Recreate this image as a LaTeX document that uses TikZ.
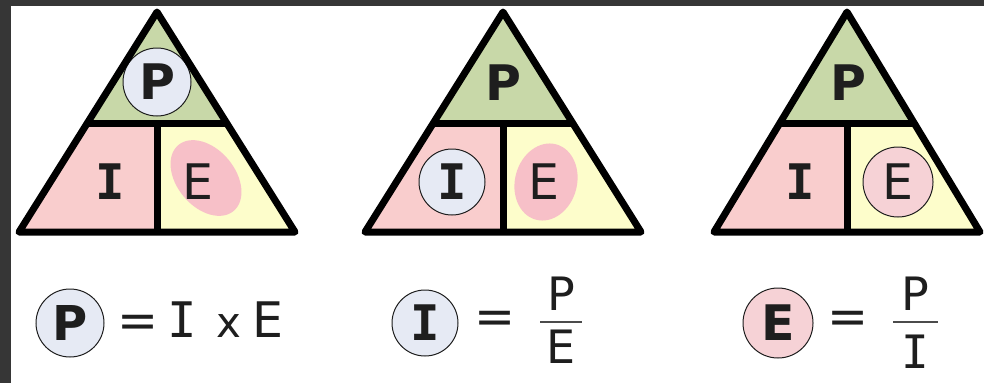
\documentclass[tikz,border=0pt]{standalone}
\usepackage{fontspec}
\setmainfont{DejaVu Sans}
\newfontfamily\slabfont{DejaVu Sans Mono}
\usetikzlibrary{positioning}

\definecolor{framegray}{HTML}{363636}
\definecolor{cellgreen}{HTML}{C8D8A8}
\definecolor{cellpink}{HTML}{F9CDCD}
\definecolor{cellyellow}{HTML}{FDFDCB}
\definecolor{blobpink}{HTML}{F7C0C8}
\definecolor{ringblue}{HTML}{E6EAF4}
\definecolor{ringpink}{HTML}{F6D2D6}
\definecolor{inkgray}{HTML}{1E1E1E}

\newcommand{\letP}{\textbf{P}}
\newcommand{\letI}{{\slabfont\bfseries I}}
\newcommand{\thinI}{{\slabfont I}}

\begin{document}
\begin{tikzpicture}[x=1pt,y=-1pt]
  \tikzset{
    edge/.style={line width=7pt, line join=round, draw=black},
    big/.style={inner sep=0pt, text=inkgray, font=\fontsize{49}{49}\selectfont},
    frac/.style={inner sep=0pt, text=inkgray, font=\fontsize{46}{46}\selectfont},
    ring/.style={circle, draw=inkgray, line width=1pt, minimum size=68pt, inner sep=0pt},
    rule/.style={line width=2pt, draw=inkgray!80},
  }
  \useasboundingbox (0,0) rectangle (984,383);
  \fill[framegray] (0,0) rectangle (984,383);
  \fill[white] (11,6) rectangle (984,383);

  % cells of the three triangles
  \foreach \c/\w in {157/138, 503/138, 847/133} {
    \pgfmathsetmacro\d{0.5045*\w}
    \fill[cellgreen] (\c,12) -- (\c-\d,123) -- (\c+\d,123) -- cycle;
    \fill[cellpink] (\c-\d,123) -- (\c-\w,232) -- (\c,232) -- (\c,123) -- cycle;
    \fill[cellyellow] (\c,123) -- (\c,232) -- (\c+\w,232) -- (\c+\d,123) -- cycle;
  }

  % pink marks
  \fill[blobpink] (206,178) ellipse [x radius=43pt, y radius=29pt, rotate=-50];
  \fill[blobpink] (546,182) ellipse [x radius=31pt, y radius=39pt, rotate=-15];

  % first triangle
  \node[ring, fill=ringblue, big] (tP1) at (157,82) {\letP};
  \node[big] (tI1) at (110,182) {\letI};
  \node[big] (tE1) at (198,182) {E};

  % second triangle
  \node[big] (tP2) at (503,83) {\letP};
  \node[ring, fill=ringblue, big, minimum size=66pt] (tI2) at (452,182) {\letI};
  \node[big] (tE2) at (544,182) {E};

  % third triangle
  \node[big] (tP3) at (848,83) {\letP};
  \node[big] (tI3) at (800,182) {\letI};
  \node[ring, fill=ringpink, big, minimum size=70pt] (tE3) at (898,182) {E};

  % outlines
  \foreach \c/\w in {157/138, 503/138, 847/133} {
    \pgfmathsetmacro\d{0.5045*\w}
    \draw[edge] (\c,12) -- (\c-\w,232) -- (\c+\w,232) -- cycle;
    \draw[edge] (\c-\d,123) -- (\c+\d,123);
    \draw[edge] (\c,123) -- (\c,232);
  }

  % P = I x E
  \node[ring, fill=ringblue, big, font=\fontsize{48}{48}\selectfont] (fP) at (70,323) {\letP};
  \node[big, anchor=base] (fEq1) at (138,337) {=};
  \node[big, anchor=base] (fI1) at (182,337) {\thinI};
  \node[big, anchor=base, font=\fontsize{42}{42}\selectfont] (fX1) at (229,337) {x};
  \node[big, anchor=base] (fE1) at (268,337) {E};

  % I = P / E
  \node[ring, fill=ringblue, big, minimum size=66pt] (fI) at (425,323) {\letI};
  \node[big] (fEq2) at (495,322) {=};
  \node[frac] (fP2) at (561,294) {P};
  \node[frac] (fE2) at (561,347) {E};
  \draw[rule] (540,322) -- (582,322);

  % E = P / I
  \node[ring, fill=ringpink, big, minimum size=70pt] (fE) at (778,323) {\textbf{E}};
  \node[big] (fEq3) at (848,322) {=};
  \node[frac] (fP3) at (915,294) {P};
  \node[frac] (fI3) at (915,352) {\thinI};
  \draw[rule] (893,322) -- (938,322);
\end{tikzpicture}
\end{document}
